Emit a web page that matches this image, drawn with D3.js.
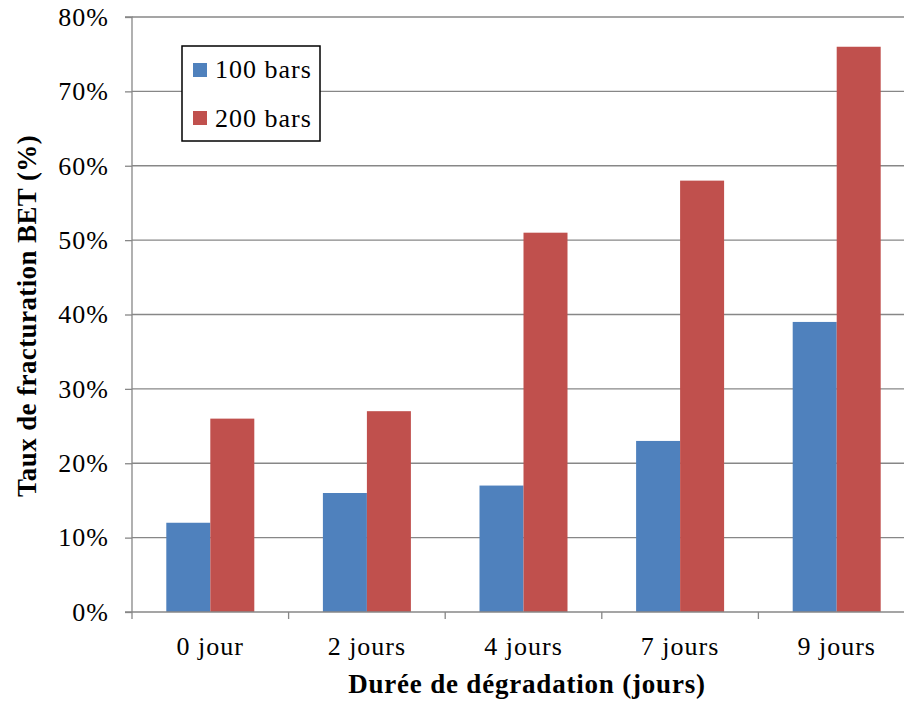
<!DOCTYPE html>
<html><head><meta charset="utf-8">
<script src="https://cdn.jsdelivr.net/npm/d3@7"></script>
<style>body{margin:0;background:#fff}svg{display:block}</style>
</head><body>
<script>
const categories = ["0 jour","2 jours","4 jours","7 jours","9 jours"];
const series = ["100 bars","200 bars"];
const values100 = [0.12,0.16,0.17,0.23,0.39];
const values200 = [0.26,0.27,0.51,0.58,0.76];
const yTicks = [0,0.1,0.2,0.3,0.4,0.5,0.6,0.7,0.8];
const colors = ["#4F81BD","#C0504D"];

const W=904,H=701;
const m={left:132,top:17,right:W,bottom:612};
const svg=d3.select("body").append("svg").attr("width",W).attr("height",H);
const font="'Liberation Serif', serif";

const x0=d3.scaleBand().domain(categories).range([m.left,m.left+5*156.6]);
const y=d3.scaleLinear().domain([0,0.8]).range([m.bottom,m.top]);

// gridlines
svg.append("g").selectAll("line").data(yTicks.slice(1)).join("line")
 .attr("x1",m.left).attr("x2",W).attr("y1",d=>y(d)).attr("y2",d=>y(d))
 .attr("stroke","#878787").attr("stroke-width",1.3);

// bars
const data=categories.map((c,i)=>({c,v:[values100[i],values200[i]]}));
const bw=44;
const g=svg.append("g");
data.forEach(d=>{
  const cx=x0(d.c)+x0.bandwidth()/2;
  d.v.forEach((v,j)=>{
    g.append("rect").attr("x",cx-bw+j*bw).attr("width",bw)
     .attr("y",y(v)).attr("height",y(0)-y(v)).attr("fill",colors[j]);
  });
});

// y axis
const ya=svg.append("g").attr("transform",`translate(${m.left},0)`)
 .call(d3.axisLeft(y).tickValues(yTicks).tickFormat(d=>Math.round(d*100)+"%").tickSize(7).tickPadding(16));
ya.select(".domain").attr("stroke","#878787").attr("stroke-width",1.3).attr("d",`M-7,${m.top}H0V${m.bottom}`);
ya.selectAll(".tick line").attr("stroke","#878787").attr("stroke-width",1.3);
ya.selectAll("text").attr("font-family",font).attr("font-size",26).attr("fill","#000").attr("letter-spacing",1);

// x axis
const xa=svg.append("g").attr("transform",`translate(0,${m.bottom})`)
 .call(d3.axisBottom(x0).tickSize(0));
xa.select(".domain").remove();
xa.append("line").attr("x1",m.left-7).attr("x2",W).attr("stroke","#878787").attr("stroke-width",1.3);
xa.selectAll(".xt").data(d3.range(6)).join("line").attr("class","xt")
 .attr("x1",i=>m.left+i*x0.step()).attr("x2",i=>m.left+i*x0.step()).attr("y1",0).attr("y2",7)
 .attr("stroke","#878787").attr("stroke-width",1.3);
xa.selectAll(".tick text").attr("y",43).attr("dy",0).attr("font-family",font).attr("font-size",26).attr("fill","#000").attr("letter-spacing",1);

// axis titles
svg.append("text").attr("x",527).attr("y",693).attr("text-anchor","middle")
 .attr("font-family",font).attr("font-weight","bold").attr("font-size",27).attr("letter-spacing",0.8)
 .text("Durée de dégradation (jours)");
svg.append("text").attr("transform","translate(36,316) rotate(-90)").attr("text-anchor","middle")
 .attr("font-family",font).attr("font-weight","bold").attr("font-size",27).attr("letter-spacing",0.4)
 .text("Taux de fracturation BET (%)");

// legend
const lg=svg.append("g");
lg.append("rect").attr("x",182).attr("y",46).attr("width",138).attr("height",95)
 .attr("fill","#fff").attr("stroke","#000").attr("stroke-width",1.5);
series.forEach((s,i)=>{
  lg.append("rect").attr("x",193).attr("y",63+i*48).attr("width",14).attr("height",14).attr("fill",colors[i]);
  lg.append("text").attr("x",215).attr("y",78+i*49).attr("font-family",font).attr("font-size",26)
   .attr("letter-spacing",1).text(s);
});
</script>
</body></html>
